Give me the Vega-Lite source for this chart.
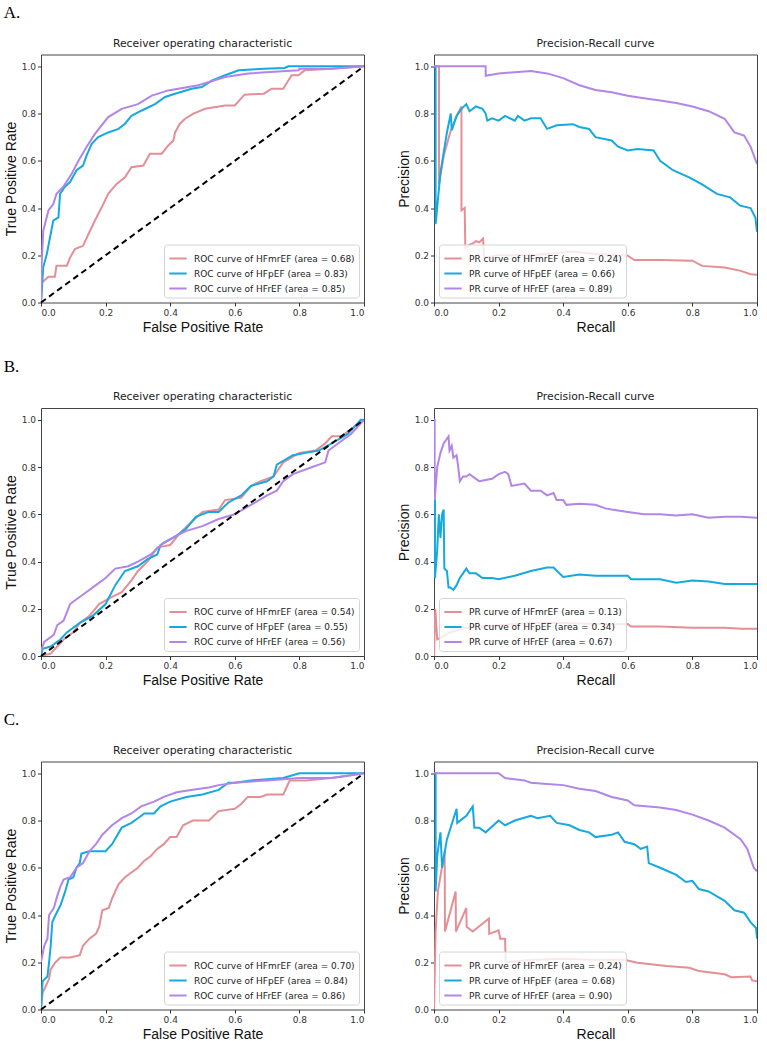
{
  "$schema": "https://vega.github.io/schema/vega-lite/v6.json",
  "padding": {"left": 3, "top": 3.5, "right": 5, "bottom": 2},
  "background": "white",
  "spacing": 22.5,
  "resolve": {"scale": {"color": "independent"}, "legend": {"color": "independent"}},
  "datasets": {
    "rocA": [
      {"curve": "HFmrEF", "fpr": 0, "tpr": 0}, {"curve": "HFmrEF", "fpr": 0.003, "tpr": 0.085}, {"curve": "HFmrEF", "fpr": 0.023, "tpr": 0.109}, {"curve": "HFmrEF", "fpr": 0.043, "tpr": 0.109}, {"curve": "HFmrEF", "fpr": 0.048, "tpr": 0.156}, {"curve": "HFmrEF", "fpr": 0.08, "tpr": 0.156}, {"curve": "HFmrEF", "fpr": 0.09, "tpr": 0.19}, {"curve": "HFmrEF", "fpr": 0.105, "tpr": 0.226}, {"curve": "HFmrEF", "fpr": 0.13, "tpr": 0.24}, {"curve": "HFmrEF", "fpr": 0.147, "tpr": 0.29}, {"curve": "HFmrEF", "fpr": 0.167, "tpr": 0.347}, {"curve": "HFmrEF", "fpr": 0.188, "tpr": 0.403}, {"curve": "HFmrEF", "fpr": 0.208, "tpr": 0.46}, {"curve": "HFmrEF", "fpr": 0.234, "tpr": 0.502}, {"curve": "HFmrEF", "fpr": 0.26, "tpr": 0.53}, {"curve": "HFmrEF", "fpr": 0.28, "tpr": 0.573}, {"curve": "HFmrEF", "fpr": 0.317, "tpr": 0.58}, {"curve": "HFmrEF", "fpr": 0.337, "tpr": 0.63}, {"curve": "HFmrEF", "fpr": 0.374, "tpr": 0.63}, {"curve": "HFmrEF", "fpr": 0.394, "tpr": 0.665}, {"curve": "HFmrEF", "fpr": 0.41, "tpr": 0.686}, {"curve": "HFmrEF", "fpr": 0.415, "tpr": 0.72}, {"curve": "HFmrEF", "fpr": 0.43, "tpr": 0.757}, {"curve": "HFmrEF", "fpr": 0.446, "tpr": 0.778}, {"curve": "HFmrEF", "fpr": 0.472, "tpr": 0.8}, {"curve": "HFmrEF", "fpr": 0.508, "tpr": 0.82}, {"curve": "HFmrEF", "fpr": 0.57, "tpr": 0.834}, {"curve": "HFmrEF", "fpr": 0.6, "tpr": 0.834}, {"curve": "HFmrEF", "fpr": 0.63, "tpr": 0.88}, {"curve": "HFmrEF", "fpr": 0.69, "tpr": 0.884}, {"curve": "HFmrEF", "fpr": 0.714, "tpr": 0.905}, {"curve": "HFmrEF", "fpr": 0.75, "tpr": 0.905}, {"curve": "HFmrEF", "fpr": 0.776, "tpr": 0.962}, {"curve": "HFmrEF", "fpr": 0.797, "tpr": 0.962}, {"curve": "HFmrEF", "fpr": 0.817, "tpr": 0.983}, {"curve": "HFmrEF", "fpr": 0.9, "tpr": 0.99}, {"curve": "HFmrEF", "fpr": 1, "tpr": 1},
      {"curve": "HFpEF", "fpr": 0, "tpr": 0}, {"curve": "HFpEF", "fpr": 0.007, "tpr": 0.15}, {"curve": "HFpEF", "fpr": 0.018, "tpr": 0.205}, {"curve": "HFpEF", "fpr": 0.028, "tpr": 0.276}, {"curve": "HFpEF", "fpr": 0.038, "tpr": 0.347}, {"curve": "HFpEF", "fpr": 0.054, "tpr": 0.36}, {"curve": "HFpEF", "fpr": 0.059, "tpr": 0.46}, {"curve": "HFpEF", "fpr": 0.074, "tpr": 0.49}, {"curve": "HFpEF", "fpr": 0.09, "tpr": 0.51}, {"curve": "HFpEF", "fpr": 0.11, "tpr": 0.56}, {"curve": "HFpEF", "fpr": 0.13, "tpr": 0.58}, {"curve": "HFpEF", "fpr": 0.141, "tpr": 0.622}, {"curve": "HFpEF", "fpr": 0.157, "tpr": 0.672}, {"curve": "HFpEF", "fpr": 0.177, "tpr": 0.7}, {"curve": "HFpEF", "fpr": 0.208, "tpr": 0.72}, {"curve": "HFpEF", "fpr": 0.24, "tpr": 0.735}, {"curve": "HFpEF", "fpr": 0.26, "tpr": 0.757}, {"curve": "HFpEF", "fpr": 0.28, "tpr": 0.79}, {"curve": "HFpEF", "fpr": 0.312, "tpr": 0.813}, {"curve": "HFpEF", "fpr": 0.353, "tpr": 0.84}, {"curve": "HFpEF", "fpr": 0.384, "tpr": 0.87}, {"curve": "HFpEF", "fpr": 0.415, "tpr": 0.884}, {"curve": "HFpEF", "fpr": 0.466, "tpr": 0.905}, {"curve": "HFpEF", "fpr": 0.498, "tpr": 0.912}, {"curve": "HFpEF", "fpr": 0.53, "tpr": 0.94}, {"curve": "HFpEF", "fpr": 0.57, "tpr": 0.962}, {"curve": "HFpEF", "fpr": 0.612, "tpr": 0.983}, {"curve": "HFpEF", "fpr": 0.69, "tpr": 0.99}, {"curve": "HFpEF", "fpr": 0.754, "tpr": 0.993}, {"curve": "HFpEF", "fpr": 0.766, "tpr": 1}, {"curve": "HFpEF", "fpr": 1, "tpr": 1},
      {"curve": "HFrEF", "fpr": 0, "tpr": 0}, {"curve": "HFrEF", "fpr": 0.002, "tpr": 0.163}, {"curve": "HFrEF", "fpr": 0.007, "tpr": 0.304}, {"curve": "HFrEF", "fpr": 0.023, "tpr": 0.39}, {"curve": "HFrEF", "fpr": 0.038, "tpr": 0.417}, {"curve": "HFrEF", "fpr": 0.048, "tpr": 0.46}, {"curve": "HFrEF", "fpr": 0.069, "tpr": 0.49}, {"curve": "HFrEF", "fpr": 0.095, "tpr": 0.545}, {"curve": "HFrEF", "fpr": 0.116, "tpr": 0.6}, {"curve": "HFrEF", "fpr": 0.141, "tpr": 0.658}, {"curve": "HFrEF", "fpr": 0.167, "tpr": 0.714}, {"curve": "HFrEF", "fpr": 0.208, "tpr": 0.785}, {"curve": "HFrEF", "fpr": 0.25, "tpr": 0.82}, {"curve": "HFrEF", "fpr": 0.3, "tpr": 0.84}, {"curve": "HFrEF", "fpr": 0.343, "tpr": 0.876}, {"curve": "HFrEF", "fpr": 0.394, "tpr": 0.898}, {"curve": "HFrEF", "fpr": 0.487, "tpr": 0.92}, {"curve": "HFrEF", "fpr": 0.57, "tpr": 0.955}, {"curve": "HFrEF", "fpr": 0.642, "tpr": 0.97}, {"curve": "HFrEF", "fpr": 0.797, "tpr": 0.983}, {"curve": "HFrEF", "fpr": 0.8, "tpr": 0.99}, {"curve": "HFrEF", "fpr": 0.9, "tpr": 0.99}, {"curve": "HFrEF", "fpr": 1, "tpr": 1}
    ],
    "prA": [
      {"curve": "HFmrEF", "recall": 0, "precision": 1}, {"curve": "HFmrEF", "recall": 0.0155, "precision": 1}, {"curve": "HFmrEF", "recall": 0.0155, "precision": 0.5}, {"curve": "HFmrEF", "recall": 0.03, "precision": 0.62}, {"curve": "HFmrEF", "recall": 0.05, "precision": 0.72}, {"curve": "HFmrEF", "recall": 0.07, "precision": 0.79}, {"curve": "HFmrEF", "recall": 0.085, "precision": 0.83}, {"curve": "HFmrEF", "recall": 0.085, "precision": 0.39}, {"curve": "HFmrEF", "recall": 0.095, "precision": 0.4}, {"curve": "HFmrEF", "recall": 0.097, "precision": 0.23}, {"curve": "HFmrEF", "recall": 0.11, "precision": 0.245}, {"curve": "HFmrEF", "recall": 0.12, "precision": 0.25}, {"curve": "HFmrEF", "recall": 0.13, "precision": 0.26}, {"curve": "HFmrEF", "recall": 0.14, "precision": 0.255}, {"curve": "HFmrEF", "recall": 0.152, "precision": 0.27}, {"curve": "HFmrEF", "recall": 0.155, "precision": 0.19}, {"curve": "HFmrEF", "recall": 0.2, "precision": 0.2}, {"curve": "HFmrEF", "recall": 0.3, "precision": 0.2}, {"curve": "HFmrEF", "recall": 0.43, "precision": 0.216}, {"curve": "HFmrEF", "recall": 0.5, "precision": 0.205}, {"curve": "HFmrEF", "recall": 0.6, "precision": 0.198}, {"curve": "HFmrEF", "recall": 0.62, "precision": 0.18}, {"curve": "HFmrEF", "recall": 0.7, "precision": 0.18}, {"curve": "HFmrEF", "recall": 0.8, "precision": 0.177}, {"curve": "HFmrEF", "recall": 0.83, "precision": 0.155}, {"curve": "HFmrEF", "recall": 0.9, "precision": 0.148}, {"curve": "HFmrEF", "recall": 0.95, "precision": 0.134}, {"curve": "HFmrEF", "recall": 0.98, "precision": 0.12}, {"curve": "HFmrEF", "recall": 1, "precision": 0.117},
      {"curve": "HFpEF", "recall": 0, "precision": 1}, {"curve": "HFpEF", "recall": 0.005, "precision": 1}, {"curve": "HFpEF", "recall": 0.005, "precision": 0.332}, {"curve": "HFpEF", "recall": 0.02, "precision": 0.55}, {"curve": "HFpEF", "recall": 0.04, "precision": 0.72}, {"curve": "HFpEF", "recall": 0.052, "precision": 0.8}, {"curve": "HFpEF", "recall": 0.055, "precision": 0.73}, {"curve": "HFpEF", "recall": 0.07, "precision": 0.79}, {"curve": "HFpEF", "recall": 0.085, "precision": 0.82}, {"curve": "HFpEF", "recall": 0.1, "precision": 0.84}, {"curve": "HFpEF", "recall": 0.11, "precision": 0.81}, {"curve": "HFpEF", "recall": 0.13, "precision": 0.83}, {"curve": "HFpEF", "recall": 0.15, "precision": 0.82}, {"curve": "HFpEF", "recall": 0.16, "precision": 0.8}, {"curve": "HFpEF", "recall": 0.165, "precision": 0.77}, {"curve": "HFpEF", "recall": 0.18, "precision": 0.78}, {"curve": "HFpEF", "recall": 0.2, "precision": 0.77}, {"curve": "HFpEF", "recall": 0.22, "precision": 0.79}, {"curve": "HFpEF", "recall": 0.25, "precision": 0.77}, {"curve": "HFpEF", "recall": 0.26, "precision": 0.79}, {"curve": "HFpEF", "recall": 0.28, "precision": 0.77}, {"curve": "HFpEF", "recall": 0.3, "precision": 0.78}, {"curve": "HFpEF", "recall": 0.33, "precision": 0.78}, {"curve": "HFpEF", "recall": 0.35, "precision": 0.735}, {"curve": "HFpEF", "recall": 0.38, "precision": 0.75}, {"curve": "HFpEF", "recall": 0.43, "precision": 0.755}, {"curve": "HFpEF", "recall": 0.45, "precision": 0.743}, {"curve": "HFpEF", "recall": 0.48, "precision": 0.735}, {"curve": "HFpEF", "recall": 0.5, "precision": 0.7}, {"curve": "HFpEF", "recall": 0.55, "precision": 0.686}, {"curve": "HFpEF", "recall": 0.57, "precision": 0.66}, {"curve": "HFpEF", "recall": 0.6, "precision": 0.644}, {"curve": "HFpEF", "recall": 0.63, "precision": 0.65}, {"curve": "HFpEF", "recall": 0.68, "precision": 0.644}, {"curve": "HFpEF", "recall": 0.7, "precision": 0.6}, {"curve": "HFpEF", "recall": 0.74, "precision": 0.56}, {"curve": "HFpEF", "recall": 0.79, "precision": 0.53}, {"curve": "HFpEF", "recall": 0.83, "precision": 0.5}, {"curve": "HFpEF", "recall": 0.876, "precision": 0.46}, {"curve": "HFpEF", "recall": 0.917, "precision": 0.445}, {"curve": "HFpEF", "recall": 0.948, "precision": 0.41}, {"curve": "HFpEF", "recall": 0.98, "precision": 0.4}, {"curve": "HFpEF", "recall": 0.995, "precision": 0.36}, {"curve": "HFpEF", "recall": 1, "precision": 0.3},
      {"curve": "HFrEF", "recall": 0, "precision": 1}, {"curve": "HFrEF", "recall": 0.16, "precision": 1}, {"curve": "HFrEF", "recall": 0.16, "precision": 0.96}, {"curve": "HFrEF", "recall": 0.2, "precision": 0.97}, {"curve": "HFrEF", "recall": 0.3, "precision": 0.98}, {"curve": "HFrEF", "recall": 0.35, "precision": 0.97}, {"curve": "HFrEF", "recall": 0.4, "precision": 0.95}, {"curve": "HFrEF", "recall": 0.45, "precision": 0.92}, {"curve": "HFrEF", "recall": 0.5, "precision": 0.9}, {"curve": "HFrEF", "recall": 0.55, "precision": 0.89}, {"curve": "HFrEF", "recall": 0.6, "precision": 0.875}, {"curve": "HFrEF", "recall": 0.65, "precision": 0.865}, {"curve": "HFrEF", "recall": 0.7, "precision": 0.855}, {"curve": "HFrEF", "recall": 0.75, "precision": 0.845}, {"curve": "HFrEF", "recall": 0.8, "precision": 0.83}, {"curve": "HFrEF", "recall": 0.85, "precision": 0.81}, {"curve": "HFrEF", "recall": 0.9, "precision": 0.778}, {"curve": "HFrEF", "recall": 0.93, "precision": 0.72}, {"curve": "HFrEF", "recall": 0.96, "precision": 0.707}, {"curve": "HFrEF", "recall": 0.98, "precision": 0.66}, {"curve": "HFrEF", "recall": 1, "precision": 0.587}
    ],
    "rocB": [
      {"curve": "HFmrEF", "fpr": 0, "tpr": 0}, {"curve": "HFmrEF", "fpr": 0.03, "tpr": 0.01}, {"curve": "HFmrEF", "fpr": 0.07, "tpr": 0.07}, {"curve": "HFmrEF", "fpr": 0.1, "tpr": 0.1}, {"curve": "HFmrEF", "fpr": 0.12, "tpr": 0.14}, {"curve": "HFmrEF", "fpr": 0.15, "tpr": 0.17}, {"curve": "HFmrEF", "fpr": 0.18, "tpr": 0.22}, {"curve": "HFmrEF", "fpr": 0.22, "tpr": 0.25}, {"curve": "HFmrEF", "fpr": 0.25, "tpr": 0.27}, {"curve": "HFmrEF", "fpr": 0.28, "tpr": 0.32}, {"curve": "HFmrEF", "fpr": 0.3, "tpr": 0.36}, {"curve": "HFmrEF", "fpr": 0.33, "tpr": 0.4}, {"curve": "HFmrEF", "fpr": 0.36, "tpr": 0.46}, {"curve": "HFmrEF", "fpr": 0.4, "tpr": 0.47}, {"curve": "HFmrEF", "fpr": 0.43, "tpr": 0.52}, {"curve": "HFmrEF", "fpr": 0.46, "tpr": 0.56}, {"curve": "HFmrEF", "fpr": 0.5, "tpr": 0.61}, {"curve": "HFmrEF", "fpr": 0.55, "tpr": 0.62}, {"curve": "HFmrEF", "fpr": 0.57, "tpr": 0.66}, {"curve": "HFmrEF", "fpr": 0.62, "tpr": 0.67}, {"curve": "HFmrEF", "fpr": 0.65, "tpr": 0.72}, {"curve": "HFmrEF", "fpr": 0.68, "tpr": 0.74}, {"curve": "HFmrEF", "fpr": 0.72, "tpr": 0.76}, {"curve": "HFmrEF", "fpr": 0.75, "tpr": 0.82}, {"curve": "HFmrEF", "fpr": 0.8, "tpr": 0.86}, {"curve": "HFmrEF", "fpr": 0.85, "tpr": 0.87}, {"curve": "HFmrEF", "fpr": 0.88, "tpr": 0.9}, {"curve": "HFmrEF", "fpr": 0.9, "tpr": 0.93}, {"curve": "HFmrEF", "fpr": 0.93, "tpr": 0.93}, {"curve": "HFmrEF", "fpr": 0.95, "tpr": 0.95}, {"curve": "HFmrEF", "fpr": 1, "tpr": 1},
      {"curve": "HFpEF", "fpr": 0, "tpr": 0}, {"curve": "HFpEF", "fpr": 0.005, "tpr": 0.03}, {"curve": "HFpEF", "fpr": 0.03, "tpr": 0.04}, {"curve": "HFpEF", "fpr": 0.06, "tpr": 0.07}, {"curve": "HFpEF", "fpr": 0.08, "tpr": 0.1}, {"curve": "HFpEF", "fpr": 0.12, "tpr": 0.14}, {"curve": "HFpEF", "fpr": 0.16, "tpr": 0.17}, {"curve": "HFpEF", "fpr": 0.2, "tpr": 0.22}, {"curve": "HFpEF", "fpr": 0.23, "tpr": 0.3}, {"curve": "HFpEF", "fpr": 0.26, "tpr": 0.36}, {"curve": "HFpEF", "fpr": 0.3, "tpr": 0.38}, {"curve": "HFpEF", "fpr": 0.33, "tpr": 0.41}, {"curve": "HFpEF", "fpr": 0.36, "tpr": 0.43}, {"curve": "HFpEF", "fpr": 0.37, "tpr": 0.47}, {"curve": "HFpEF", "fpr": 0.42, "tpr": 0.51}, {"curve": "HFpEF", "fpr": 0.45, "tpr": 0.54}, {"curve": "HFpEF", "fpr": 0.48, "tpr": 0.59}, {"curve": "HFpEF", "fpr": 0.52, "tpr": 0.61}, {"curve": "HFpEF", "fpr": 0.55, "tpr": 0.61}, {"curve": "HFpEF", "fpr": 0.58, "tpr": 0.65}, {"curve": "HFpEF", "fpr": 0.62, "tpr": 0.68}, {"curve": "HFpEF", "fpr": 0.65, "tpr": 0.72}, {"curve": "HFpEF", "fpr": 0.7, "tpr": 0.74}, {"curve": "HFpEF", "fpr": 0.72, "tpr": 0.76}, {"curve": "HFpEF", "fpr": 0.73, "tpr": 0.81}, {"curve": "HFpEF", "fpr": 0.78, "tpr": 0.85}, {"curve": "HFpEF", "fpr": 0.82, "tpr": 0.86}, {"curve": "HFpEF", "fpr": 0.86, "tpr": 0.87}, {"curve": "HFpEF", "fpr": 0.9, "tpr": 0.9}, {"curve": "HFpEF", "fpr": 0.95, "tpr": 0.94}, {"curve": "HFpEF", "fpr": 0.99, "tpr": 1}, {"curve": "HFpEF", "fpr": 1, "tpr": 1},
      {"curve": "HFrEF", "fpr": 0, "tpr": 0.02}, {"curve": "HFrEF", "fpr": 0.01, "tpr": 0.06}, {"curve": "HFrEF", "fpr": 0.04, "tpr": 0.09}, {"curve": "HFrEF", "fpr": 0.05, "tpr": 0.13}, {"curve": "HFrEF", "fpr": 0.07, "tpr": 0.15}, {"curve": "HFrEF", "fpr": 0.09, "tpr": 0.22}, {"curve": "HFrEF", "fpr": 0.11, "tpr": 0.24}, {"curve": "HFrEF", "fpr": 0.14, "tpr": 0.27}, {"curve": "HFrEF", "fpr": 0.17, "tpr": 0.3}, {"curve": "HFrEF", "fpr": 0.2, "tpr": 0.33}, {"curve": "HFrEF", "fpr": 0.23, "tpr": 0.37}, {"curve": "HFrEF", "fpr": 0.27, "tpr": 0.38}, {"curve": "HFrEF", "fpr": 0.3, "tpr": 0.4}, {"curve": "HFrEF", "fpr": 0.34, "tpr": 0.43}, {"curve": "HFrEF", "fpr": 0.38, "tpr": 0.48}, {"curve": "HFrEF", "fpr": 0.42, "tpr": 0.51}, {"curve": "HFrEF", "fpr": 0.45, "tpr": 0.53}, {"curve": "HFrEF", "fpr": 0.5, "tpr": 0.55}, {"curve": "HFrEF", "fpr": 0.55, "tpr": 0.58}, {"curve": "HFrEF", "fpr": 0.6, "tpr": 0.6}, {"curve": "HFrEF", "fpr": 0.65, "tpr": 0.64}, {"curve": "HFrEF", "fpr": 0.7, "tpr": 0.68}, {"curve": "HFrEF", "fpr": 0.73, "tpr": 0.7}, {"curve": "HFrEF", "fpr": 0.75, "tpr": 0.74}, {"curve": "HFrEF", "fpr": 0.78, "tpr": 0.77}, {"curve": "HFrEF", "fpr": 0.84, "tpr": 0.8}, {"curve": "HFrEF", "fpr": 0.88, "tpr": 0.82}, {"curve": "HFrEF", "fpr": 0.89, "tpr": 0.87}, {"curve": "HFrEF", "fpr": 0.93, "tpr": 0.91}, {"curve": "HFrEF", "fpr": 0.96, "tpr": 0.94}, {"curve": "HFrEF", "fpr": 1, "tpr": 1}
    ],
    "prB": [
      {"curve": "HFmrEF", "recall": 0, "precision": 0}, {"curve": "HFmrEF", "recall": 0.004, "precision": 0.2}, {"curve": "HFmrEF", "recall": 0.01, "precision": 0.07}, {"curve": "HFmrEF", "recall": 0.05, "precision": 0.1}, {"curve": "HFmrEF", "recall": 0.1, "precision": 0.12}, {"curve": "HFmrEF", "recall": 0.2, "precision": 0.13}, {"curve": "HFmrEF", "recall": 0.3, "precision": 0.14}, {"curve": "HFmrEF", "recall": 0.4, "precision": 0.14}, {"curve": "HFmrEF", "recall": 0.5, "precision": 0.135}, {"curve": "HFmrEF", "recall": 0.6, "precision": 0.135}, {"curve": "HFmrEF", "recall": 0.61, "precision": 0.125}, {"curve": "HFmrEF", "recall": 0.7, "precision": 0.125}, {"curve": "HFmrEF", "recall": 0.8, "precision": 0.12}, {"curve": "HFmrEF", "recall": 0.9, "precision": 0.12}, {"curve": "HFmrEF", "recall": 0.95, "precision": 0.115}, {"curve": "HFmrEF", "recall": 1, "precision": 0.115},
      {"curve": "HFpEF", "recall": 0, "precision": 0.66}, {"curve": "HFpEF", "recall": 0.003, "precision": 0.66}, {"curve": "HFpEF", "recall": 0.003, "precision": 0.33}, {"curve": "HFpEF", "recall": 0.01, "precision": 0.45}, {"curve": "HFpEF", "recall": 0.015, "precision": 0.6}, {"curve": "HFpEF", "recall": 0.02, "precision": 0.5}, {"curve": "HFpEF", "recall": 0.025, "precision": 0.6}, {"curve": "HFpEF", "recall": 0.03, "precision": 0.62}, {"curve": "HFpEF", "recall": 0.032, "precision": 0.37}, {"curve": "HFpEF", "recall": 0.04, "precision": 0.36}, {"curve": "HFpEF", "recall": 0.045, "precision": 0.29}, {"curve": "HFpEF", "recall": 0.05, "precision": 0.29}, {"curve": "HFpEF", "recall": 0.06, "precision": 0.28}, {"curve": "HFpEF", "recall": 0.07, "precision": 0.3}, {"curve": "HFpEF", "recall": 0.08, "precision": 0.33}, {"curve": "HFpEF", "recall": 0.1, "precision": 0.37}, {"curve": "HFpEF", "recall": 0.11, "precision": 0.35}, {"curve": "HFpEF", "recall": 0.13, "precision": 0.35}, {"curve": "HFpEF", "recall": 0.15, "precision": 0.33}, {"curve": "HFpEF", "recall": 0.18, "precision": 0.33}, {"curve": "HFpEF", "recall": 0.2, "precision": 0.325}, {"curve": "HFpEF", "recall": 0.25, "precision": 0.34}, {"curve": "HFpEF", "recall": 0.3, "precision": 0.36}, {"curve": "HFpEF", "recall": 0.35, "precision": 0.375}, {"curve": "HFpEF", "recall": 0.37, "precision": 0.375}, {"curve": "HFpEF", "recall": 0.4, "precision": 0.335}, {"curve": "HFpEF", "recall": 0.45, "precision": 0.345}, {"curve": "HFpEF", "recall": 0.5, "precision": 0.34}, {"curve": "HFpEF", "recall": 0.55, "precision": 0.34}, {"curve": "HFpEF", "recall": 0.6, "precision": 0.34}, {"curve": "HFpEF", "recall": 0.61, "precision": 0.325}, {"curve": "HFpEF", "recall": 0.7, "precision": 0.325}, {"curve": "HFpEF", "recall": 0.75, "precision": 0.31}, {"curve": "HFpEF", "recall": 0.8, "precision": 0.32}, {"curve": "HFpEF", "recall": 0.85, "precision": 0.315}, {"curve": "HFpEF", "recall": 0.9, "precision": 0.305}, {"curve": "HFpEF", "recall": 0.95, "precision": 0.305}, {"curve": "HFpEF", "recall": 1, "precision": 0.305},
      {"curve": "HFrEF", "recall": 0, "precision": 1}, {"curve": "HFrEF", "recall": 0.002, "precision": 1}, {"curve": "HFrEF", "recall": 0.002, "precision": 0.66}, {"curve": "HFrEF", "recall": 0.01, "precision": 0.8}, {"curve": "HFrEF", "recall": 0.02, "precision": 0.86}, {"curve": "HFrEF", "recall": 0.03, "precision": 0.9}, {"curve": "HFrEF", "recall": 0.045, "precision": 0.93}, {"curve": "HFrEF", "recall": 0.048, "precision": 0.87}, {"curve": "HFrEF", "recall": 0.055, "precision": 0.89}, {"curve": "HFrEF", "recall": 0.06, "precision": 0.84}, {"curve": "HFrEF", "recall": 0.07, "precision": 0.85}, {"curve": "HFrEF", "recall": 0.075, "precision": 0.8}, {"curve": "HFrEF", "recall": 0.08, "precision": 0.74}, {"curve": "HFrEF", "recall": 0.09, "precision": 0.76}, {"curve": "HFrEF", "recall": 0.1, "precision": 0.76}, {"curve": "HFrEF", "recall": 0.11, "precision": 0.77}, {"curve": "HFrEF", "recall": 0.13, "precision": 0.75}, {"curve": "HFrEF", "recall": 0.14, "precision": 0.74}, {"curve": "HFrEF", "recall": 0.16, "precision": 0.745}, {"curve": "HFrEF", "recall": 0.18, "precision": 0.75}, {"curve": "HFrEF", "recall": 0.2, "precision": 0.77}, {"curve": "HFrEF", "recall": 0.22, "precision": 0.78}, {"curve": "HFrEF", "recall": 0.23, "precision": 0.77}, {"curve": "HFrEF", "recall": 0.24, "precision": 0.72}, {"curve": "HFrEF", "recall": 0.28, "precision": 0.73}, {"curve": "HFrEF", "recall": 0.3, "precision": 0.7}, {"curve": "HFrEF", "recall": 0.33, "precision": 0.7}, {"curve": "HFrEF", "recall": 0.35, "precision": 0.68}, {"curve": "HFrEF", "recall": 0.37, "precision": 0.69}, {"curve": "HFrEF", "recall": 0.38, "precision": 0.66}, {"curve": "HFrEF", "recall": 0.4, "precision": 0.66}, {"curve": "HFrEF", "recall": 0.41, "precision": 0.64}, {"curve": "HFrEF", "recall": 0.45, "precision": 0.645}, {"curve": "HFrEF", "recall": 0.5, "precision": 0.64}, {"curve": "HFrEF", "recall": 0.53, "precision": 0.625}, {"curve": "HFrEF", "recall": 0.55, "precision": 0.62}, {"curve": "HFrEF", "recall": 0.6, "precision": 0.61}, {"curve": "HFrEF", "recall": 0.65, "precision": 0.6}, {"curve": "HFrEF", "recall": 0.7, "precision": 0.6}, {"curve": "HFrEF", "recall": 0.75, "precision": 0.595}, {"curve": "HFrEF", "recall": 0.8, "precision": 0.6}, {"curve": "HFrEF", "recall": 0.85, "precision": 0.585}, {"curve": "HFrEF", "recall": 0.9, "precision": 0.59}, {"curve": "HFrEF", "recall": 0.95, "precision": 0.59}, {"curve": "HFrEF", "recall": 1, "precision": 0.585}
    ],
    "rocC": [
      {"curve": "HFmrEF", "fpr": 0, "tpr": 0}, {"curve": "HFmrEF", "fpr": 0.005, "tpr": 0.07}, {"curve": "HFmrEF", "fpr": 0.015, "tpr": 0.1}, {"curve": "HFmrEF", "fpr": 0.025, "tpr": 0.13}, {"curve": "HFmrEF", "fpr": 0.03, "tpr": 0.17}, {"curve": "HFmrEF", "fpr": 0.045, "tpr": 0.2}, {"curve": "HFmrEF", "fpr": 0.06, "tpr": 0.22}, {"curve": "HFmrEF", "fpr": 0.09, "tpr": 0.22}, {"curve": "HFmrEF", "fpr": 0.12, "tpr": 0.23}, {"curve": "HFmrEF", "fpr": 0.13, "tpr": 0.27}, {"curve": "HFmrEF", "fpr": 0.15, "tpr": 0.3}, {"curve": "HFmrEF", "fpr": 0.17, "tpr": 0.32}, {"curve": "HFmrEF", "fpr": 0.18, "tpr": 0.35}, {"curve": "HFmrEF", "fpr": 0.19, "tpr": 0.42}, {"curve": "HFmrEF", "fpr": 0.21, "tpr": 0.43}, {"curve": "HFmrEF", "fpr": 0.22, "tpr": 0.47}, {"curve": "HFmrEF", "fpr": 0.24, "tpr": 0.53}, {"curve": "HFmrEF", "fpr": 0.26, "tpr": 0.56}, {"curve": "HFmrEF", "fpr": 0.28, "tpr": 0.58}, {"curve": "HFmrEF", "fpr": 0.3, "tpr": 0.6}, {"curve": "HFmrEF", "fpr": 0.32, "tpr": 0.63}, {"curve": "HFmrEF", "fpr": 0.34, "tpr": 0.65}, {"curve": "HFmrEF", "fpr": 0.36, "tpr": 0.68}, {"curve": "HFmrEF", "fpr": 0.38, "tpr": 0.7}, {"curve": "HFmrEF", "fpr": 0.4, "tpr": 0.73}, {"curve": "HFmrEF", "fpr": 0.42, "tpr": 0.73}, {"curve": "HFmrEF", "fpr": 0.44, "tpr": 0.78}, {"curve": "HFmrEF", "fpr": 0.47, "tpr": 0.8}, {"curve": "HFmrEF", "fpr": 0.52, "tpr": 0.8}, {"curve": "HFmrEF", "fpr": 0.55, "tpr": 0.84}, {"curve": "HFmrEF", "fpr": 0.6, "tpr": 0.85}, {"curve": "HFmrEF", "fpr": 0.62, "tpr": 0.87}, {"curve": "HFmrEF", "fpr": 0.64, "tpr": 0.9}, {"curve": "HFmrEF", "fpr": 0.68, "tpr": 0.9}, {"curve": "HFmrEF", "fpr": 0.7, "tpr": 0.91}, {"curve": "HFmrEF", "fpr": 0.75, "tpr": 0.91}, {"curve": "HFmrEF", "fpr": 0.76, "tpr": 0.94}, {"curve": "HFmrEF", "fpr": 0.77, "tpr": 0.97}, {"curve": "HFmrEF", "fpr": 0.82, "tpr": 0.97}, {"curve": "HFmrEF", "fpr": 0.9, "tpr": 0.98}, {"curve": "HFmrEF", "fpr": 1, "tpr": 1},
      {"curve": "HFpEF", "fpr": 0, "tpr": 0}, {"curve": "HFpEF", "fpr": 0.005, "tpr": 0.12}, {"curve": "HFpEF", "fpr": 0.02, "tpr": 0.14}, {"curve": "HFpEF", "fpr": 0.025, "tpr": 0.2}, {"curve": "HFpEF", "fpr": 0.03, "tpr": 0.27}, {"curve": "HFpEF", "fpr": 0.035, "tpr": 0.37}, {"curve": "HFpEF", "fpr": 0.045, "tpr": 0.4}, {"curve": "HFpEF", "fpr": 0.06, "tpr": 0.44}, {"curve": "HFpEF", "fpr": 0.075, "tpr": 0.5}, {"curve": "HFpEF", "fpr": 0.085, "tpr": 0.55}, {"curve": "HFpEF", "fpr": 0.1, "tpr": 0.56}, {"curve": "HFpEF", "fpr": 0.11, "tpr": 0.6}, {"curve": "HFpEF", "fpr": 0.12, "tpr": 0.62}, {"curve": "HFpEF", "fpr": 0.125, "tpr": 0.66}, {"curve": "HFpEF", "fpr": 0.15, "tpr": 0.67}, {"curve": "HFpEF", "fpr": 0.2, "tpr": 0.67}, {"curve": "HFpEF", "fpr": 0.22, "tpr": 0.7}, {"curve": "HFpEF", "fpr": 0.25, "tpr": 0.77}, {"curve": "HFpEF", "fpr": 0.28, "tpr": 0.79}, {"curve": "HFpEF", "fpr": 0.3, "tpr": 0.81}, {"curve": "HFpEF", "fpr": 0.32, "tpr": 0.83}, {"curve": "HFpEF", "fpr": 0.35, "tpr": 0.83}, {"curve": "HFpEF", "fpr": 0.37, "tpr": 0.86}, {"curve": "HFpEF", "fpr": 0.4, "tpr": 0.88}, {"curve": "HFpEF", "fpr": 0.45, "tpr": 0.9}, {"curve": "HFpEF", "fpr": 0.5, "tpr": 0.91}, {"curve": "HFpEF", "fpr": 0.55, "tpr": 0.93}, {"curve": "HFpEF", "fpr": 0.58, "tpr": 0.96}, {"curve": "HFpEF", "fpr": 0.6, "tpr": 0.96}, {"curve": "HFpEF", "fpr": 0.65, "tpr": 0.97}, {"curve": "HFpEF", "fpr": 0.75, "tpr": 0.98}, {"curve": "HFpEF", "fpr": 0.8, "tpr": 1}, {"curve": "HFpEF", "fpr": 1, "tpr": 1},
      {"curve": "HFrEF", "fpr": 0, "tpr": 0.2}, {"curve": "HFrEF", "fpr": 0.01, "tpr": 0.27}, {"curve": "HFrEF", "fpr": 0.02, "tpr": 0.3}, {"curve": "HFrEF", "fpr": 0.025, "tpr": 0.4}, {"curve": "HFrEF", "fpr": 0.04, "tpr": 0.43}, {"curve": "HFrEF", "fpr": 0.05, "tpr": 0.48}, {"curve": "HFrEF", "fpr": 0.06, "tpr": 0.52}, {"curve": "HFrEF", "fpr": 0.07, "tpr": 0.55}, {"curve": "HFrEF", "fpr": 0.09, "tpr": 0.56}, {"curve": "HFrEF", "fpr": 0.11, "tpr": 0.6}, {"curve": "HFrEF", "fpr": 0.13, "tpr": 0.62}, {"curve": "HFrEF", "fpr": 0.15, "tpr": 0.67}, {"curve": "HFrEF", "fpr": 0.17, "tpr": 0.7}, {"curve": "HFrEF", "fpr": 0.19, "tpr": 0.74}, {"curve": "HFrEF", "fpr": 0.22, "tpr": 0.78}, {"curve": "HFrEF", "fpr": 0.25, "tpr": 0.81}, {"curve": "HFrEF", "fpr": 0.28, "tpr": 0.83}, {"curve": "HFrEF", "fpr": 0.31, "tpr": 0.86}, {"curve": "HFrEF", "fpr": 0.35, "tpr": 0.88}, {"curve": "HFrEF", "fpr": 0.38, "tpr": 0.9}, {"curve": "HFrEF", "fpr": 0.42, "tpr": 0.92}, {"curve": "HFrEF", "fpr": 0.47, "tpr": 0.93}, {"curve": "HFrEF", "fpr": 0.52, "tpr": 0.94}, {"curve": "HFrEF", "fpr": 0.55, "tpr": 0.95}, {"curve": "HFrEF", "fpr": 0.6, "tpr": 0.96}, {"curve": "HFrEF", "fpr": 0.7, "tpr": 0.97}, {"curve": "HFrEF", "fpr": 0.8, "tpr": 0.98}, {"curve": "HFrEF", "fpr": 0.9, "tpr": 0.98}, {"curve": "HFrEF", "fpr": 0.95, "tpr": 0.99}, {"curve": "HFrEF", "fpr": 1, "tpr": 1}
    ],
    "prC": [
      {"curve": "HFmrEF", "recall": 0, "precision": 0}, {"curve": "HFmrEF", "recall": 0.005, "precision": 0.33}, {"curve": "HFmrEF", "recall": 0.012, "precision": 0.5}, {"curve": "HFmrEF", "recall": 0.033, "precision": 0.67}, {"curve": "HFmrEF", "recall": 0.034, "precision": 0.33}, {"curve": "HFmrEF", "recall": 0.067, "precision": 0.5}, {"curve": "HFmrEF", "recall": 0.068, "precision": 0.33}, {"curve": "HFmrEF", "recall": 0.1, "precision": 0.43}, {"curve": "HFmrEF", "recall": 0.101, "precision": 0.35}, {"curve": "HFmrEF", "recall": 0.12, "precision": 0.33}, {"curve": "HFmrEF", "recall": 0.17, "precision": 0.385}, {"curve": "HFmrEF", "recall": 0.171, "precision": 0.32}, {"curve": "HFmrEF", "recall": 0.2, "precision": 0.335}, {"curve": "HFmrEF", "recall": 0.205, "precision": 0.3}, {"curve": "HFmrEF", "recall": 0.22, "precision": 0.3}, {"curve": "HFmrEF", "recall": 0.222, "precision": 0.2}, {"curve": "HFmrEF", "recall": 0.3, "precision": 0.21}, {"curve": "HFmrEF", "recall": 0.4, "precision": 0.215}, {"curve": "HFmrEF", "recall": 0.5, "precision": 0.21}, {"curve": "HFmrEF", "recall": 0.586, "precision": 0.212}, {"curve": "HFmrEF", "recall": 0.63, "precision": 0.198}, {"curve": "HFmrEF", "recall": 0.72, "precision": 0.184}, {"curve": "HFmrEF", "recall": 0.79, "precision": 0.177}, {"curve": "HFmrEF", "recall": 0.82, "precision": 0.163}, {"curve": "HFmrEF", "recall": 0.9, "precision": 0.149}, {"curve": "HFmrEF", "recall": 0.92, "precision": 0.137}, {"curve": "HFmrEF", "recall": 0.98, "precision": 0.14}, {"curve": "HFmrEF", "recall": 0.985, "precision": 0.123}, {"curve": "HFmrEF", "recall": 1, "precision": 0.12},
      {"curve": "HFpEF", "recall": 0, "precision": 1}, {"curve": "HFpEF", "recall": 0.005, "precision": 1}, {"curve": "HFpEF", "recall": 0.005, "precision": 0.5}, {"curve": "HFpEF", "recall": 0.01, "precision": 0.65}, {"curve": "HFpEF", "recall": 0.02, "precision": 0.75}, {"curve": "HFpEF", "recall": 0.025, "precision": 0.6}, {"curve": "HFpEF", "recall": 0.04, "precision": 0.72}, {"curve": "HFpEF", "recall": 0.07, "precision": 0.85}, {"curve": "HFpEF", "recall": 0.072, "precision": 0.79}, {"curve": "HFpEF", "recall": 0.1, "precision": 0.82}, {"curve": "HFpEF", "recall": 0.12, "precision": 0.86}, {"curve": "HFpEF", "recall": 0.125, "precision": 0.77}, {"curve": "HFpEF", "recall": 0.14, "precision": 0.77}, {"curve": "HFpEF", "recall": 0.16, "precision": 0.75}, {"curve": "HFpEF", "recall": 0.2, "precision": 0.8}, {"curve": "HFpEF", "recall": 0.22, "precision": 0.78}, {"curve": "HFpEF", "recall": 0.25, "precision": 0.8}, {"curve": "HFpEF", "recall": 0.3, "precision": 0.82}, {"curve": "HFpEF", "recall": 0.32, "precision": 0.81}, {"curve": "HFpEF", "recall": 0.36, "precision": 0.82}, {"curve": "HFpEF", "recall": 0.38, "precision": 0.79}, {"curve": "HFpEF", "recall": 0.42, "precision": 0.78}, {"curve": "HFpEF", "recall": 0.45, "precision": 0.76}, {"curve": "HFpEF", "recall": 0.48, "precision": 0.75}, {"curve": "HFpEF", "recall": 0.5, "precision": 0.73}, {"curve": "HFpEF", "recall": 0.55, "precision": 0.74}, {"curve": "HFpEF", "recall": 0.57, "precision": 0.75}, {"curve": "HFpEF", "recall": 0.59, "precision": 0.71}, {"curve": "HFpEF", "recall": 0.62, "precision": 0.7}, {"curve": "HFpEF", "recall": 0.64, "precision": 0.68}, {"curve": "HFpEF", "recall": 0.66, "precision": 0.69}, {"curve": "HFpEF", "recall": 0.665, "precision": 0.62}, {"curve": "HFpEF", "recall": 0.7, "precision": 0.6}, {"curve": "HFpEF", "recall": 0.75, "precision": 0.57}, {"curve": "HFpEF", "recall": 0.78, "precision": 0.54}, {"curve": "HFpEF", "recall": 0.8, "precision": 0.545}, {"curve": "HFpEF", "recall": 0.82, "precision": 0.51}, {"curve": "HFpEF", "recall": 0.85, "precision": 0.5}, {"curve": "HFpEF", "recall": 0.9, "precision": 0.46}, {"curve": "HFpEF", "recall": 0.93, "precision": 0.42}, {"curve": "HFpEF", "recall": 0.96, "precision": 0.41}, {"curve": "HFpEF", "recall": 0.98, "precision": 0.37}, {"curve": "HFpEF", "recall": 0.997, "precision": 0.345}, {"curve": "HFpEF", "recall": 1, "precision": 0.3},
      {"curve": "HFrEF", "recall": 0, "precision": 1}, {"curve": "HFrEF", "recall": 0.2, "precision": 1}, {"curve": "HFrEF", "recall": 0.22, "precision": 0.98}, {"curve": "HFrEF", "recall": 0.25, "precision": 0.975}, {"curve": "HFrEF", "recall": 0.28, "precision": 0.97}, {"curve": "HFrEF", "recall": 0.3, "precision": 0.96}, {"curve": "HFrEF", "recall": 0.35, "precision": 0.955}, {"curve": "HFrEF", "recall": 0.4, "precision": 0.95}, {"curve": "HFrEF", "recall": 0.45, "precision": 0.935}, {"curve": "HFrEF", "recall": 0.5, "precision": 0.925}, {"curve": "HFrEF", "recall": 0.55, "precision": 0.9}, {"curve": "HFrEF", "recall": 0.6, "precision": 0.885}, {"curve": "HFrEF", "recall": 0.62, "precision": 0.865}, {"curve": "HFrEF", "recall": 0.7, "precision": 0.855}, {"curve": "HFrEF", "recall": 0.75, "precision": 0.845}, {"curve": "HFrEF", "recall": 0.8, "precision": 0.825}, {"curve": "HFrEF", "recall": 0.85, "precision": 0.8}, {"curve": "HFrEF", "recall": 0.9, "precision": 0.77}, {"curve": "HFrEF", "recall": 0.95, "precision": 0.72}, {"curve": "HFrEF", "recall": 0.97, "precision": 0.68}, {"curve": "HFrEF", "recall": 0.98, "precision": 0.64}, {"curve": "HFrEF", "recall": 0.99, "precision": 0.6}, {"curve": "HFrEF", "recall": 1, "precision": 0.585}
    ],
    "diagonal": [{"fpr": 0, "tpr": 0}, {"fpr": 1, "tpr": 1}]
  },
  "vconcat": [
    {
      "title": {"text": "A.", "font": "Liberation Serif", "fontSize": 17, "color": "#000", "anchor": "start", "offset": 15},
      "spacing": 27,
      "resolve": {"scale": {"color": "independent"}, "legend": {"color": "independent"}},
      "hconcat": [
        {
          "width": 323, "height": 248,
          "title": "Receiver operating characteristic",
          "layer": [
            {
              "data": {"name": "rocA"},
              "mark": {"type": "line", "clip": true},
              "encoding": {
                "x": {"field": "fpr", "type": "quantitative", "scale": {"domain": [0, 1], "nice": false}, "axis": {"title": "False Positive Rate", "values": [0, 0.2, 0.4, 0.6, 0.8, 1], "format": ".1f"}},
                "y": {"field": "tpr", "type": "quantitative", "scale": {"domain": [0, 1.05], "nice": false}, "axis": {"title": "True Positive Rate", "values": [0, 0.2, 0.4, 0.6, 0.8, 1], "format": ".1f"}},
                "color": {"field": "curve", "type": "nominal", "scale": {"domain": ["HFmrEF", "HFpEF", "HFrEF"], "range": ["#E58E95", "#16A9E0", "#B285E8"]}, "legend": {"orient": "bottom-right", "labelExpr": "'ROC curve of ' + datum.label + ' (area = ' + (datum.label == 'HFmrEF' ? '0.68' : datum.label == 'HFpEF' ? '0.83' : '0.85') + ')'"}},
                "order": {"value": null}
              }
            },
            {
              "data": {"name": "diagonal"},
              "mark": {"type": "line", "color": "black", "strokeDash": [6, 4], "strokeWidth": 2},
              "encoding": {"x": {"field": "fpr", "type": "quantitative"}, "y": {"field": "tpr", "type": "quantitative"}}
            }
          ]
        },
        {
          "width": 323, "height": 248,
          "title": "Precision-Recall curve",
          "data": {"name": "prA"},
          "mark": {"type": "line", "clip": true},
          "encoding": {
            "x": {"field": "recall", "type": "quantitative", "scale": {"domain": [0, 1], "nice": false}, "axis": {"title": "Recall", "values": [0, 0.2, 0.4, 0.6, 0.8, 1], "format": ".1f"}},
            "y": {"field": "precision", "type": "quantitative", "scale": {"domain": [0, 1.05], "nice": false}, "axis": {"title": "Precision", "values": [0, 0.2, 0.4, 0.6, 0.8, 1], "format": ".1f"}},
            "color": {"field": "curve", "type": "nominal", "scale": {"domain": ["HFmrEF", "HFpEF", "HFrEF"], "range": ["#E58E95", "#16A9E0", "#B285E8"]}, "legend": {"orient": "bottom-left", "labelExpr": "'PR curve of ' + datum.label + ' (area = ' + (datum.label == 'HFmrEF' ? '0.24' : datum.label == 'HFpEF' ? '0.66' : '0.89') + ')'"}},
            "order": {"value": null}
          }
        }
      ]
    },
    {
      "title": {"text": "B.", "font": "Liberation Serif", "fontSize": 17, "color": "#000", "anchor": "start", "offset": 15},
      "spacing": 27,
      "resolve": {"scale": {"color": "independent"}, "legend": {"color": "independent"}},
      "hconcat": [
        {
          "width": 323, "height": 248,
          "title": "Receiver operating characteristic",
          "layer": [
            {
              "data": {"name": "rocB"},
              "mark": {"type": "line", "clip": true},
              "encoding": {
                "x": {"field": "fpr", "type": "quantitative", "scale": {"domain": [0, 1], "nice": false}, "axis": {"title": "False Positive Rate", "values": [0, 0.2, 0.4, 0.6, 0.8, 1], "format": ".1f"}},
                "y": {"field": "tpr", "type": "quantitative", "scale": {"domain": [0, 1.05], "nice": false}, "axis": {"title": "True Positive Rate", "values": [0, 0.2, 0.4, 0.6, 0.8, 1], "format": ".1f"}},
                "color": {"field": "curve", "type": "nominal", "scale": {"domain": ["HFmrEF", "HFpEF", "HFrEF"], "range": ["#E58E95", "#16A9E0", "#B285E8"]}, "legend": {"orient": "bottom-right", "labelExpr": "'ROC curve of ' + datum.label + ' (area = ' + (datum.label == 'HFmrEF' ? '0.54' : datum.label == 'HFpEF' ? '0.55' : '0.56') + ')'"}},
                "order": {"value": null}
              }
            },
            {
              "data": {"name": "diagonal"},
              "mark": {"type": "line", "color": "black", "strokeDash": [6, 4], "strokeWidth": 2},
              "encoding": {"x": {"field": "fpr", "type": "quantitative"}, "y": {"field": "tpr", "type": "quantitative"}}
            }
          ]
        },
        {
          "width": 323, "height": 248,
          "title": "Precision-Recall curve",
          "data": {"name": "prB"},
          "mark": {"type": "line", "clip": true},
          "encoding": {
            "x": {"field": "recall", "type": "quantitative", "scale": {"domain": [0, 1], "nice": false}, "axis": {"title": "Recall", "values": [0, 0.2, 0.4, 0.6, 0.8, 1], "format": ".1f"}},
            "y": {"field": "precision", "type": "quantitative", "scale": {"domain": [0, 1.05], "nice": false}, "axis": {"title": "Precision", "values": [0, 0.2, 0.4, 0.6, 0.8, 1], "format": ".1f"}},
            "color": {"field": "curve", "type": "nominal", "scale": {"domain": ["HFmrEF", "HFpEF", "HFrEF"], "range": ["#E58E95", "#16A9E0", "#B285E8"]}, "legend": {"orient": "bottom-left", "labelExpr": "'PR curve of ' + datum.label + ' (area = ' + (datum.label == 'HFmrEF' ? '0.13' : datum.label == 'HFpEF' ? '0.34' : '0.67') + ')'"}},
            "order": {"value": null}
          }
        }
      ]
    },
    {
      "title": {"text": "C.", "font": "Liberation Serif", "fontSize": 17, "color": "#000", "anchor": "start", "offset": 15},
      "spacing": 27,
      "resolve": {"scale": {"color": "independent"}, "legend": {"color": "independent"}},
      "hconcat": [
        {
          "width": 323, "height": 248,
          "title": "Receiver operating characteristic",
          "layer": [
            {
              "data": {"name": "rocC"},
              "mark": {"type": "line", "clip": true},
              "encoding": {
                "x": {"field": "fpr", "type": "quantitative", "scale": {"domain": [0, 1], "nice": false}, "axis": {"title": "False Positive Rate", "values": [0, 0.2, 0.4, 0.6, 0.8, 1], "format": ".1f"}},
                "y": {"field": "tpr", "type": "quantitative", "scale": {"domain": [0, 1.05], "nice": false}, "axis": {"title": "True Positive Rate", "values": [0, 0.2, 0.4, 0.6, 0.8, 1], "format": ".1f"}},
                "color": {"field": "curve", "type": "nominal", "scale": {"domain": ["HFmrEF", "HFpEF", "HFrEF"], "range": ["#E58E95", "#16A9E0", "#B285E8"]}, "legend": {"orient": "bottom-right", "labelExpr": "'ROC curve of ' + datum.label + ' (area = ' + (datum.label == 'HFmrEF' ? '0.70' : datum.label == 'HFpEF' ? '0.84' : '0.86') + ')'"}},
                "order": {"value": null}
              }
            },
            {
              "data": {"name": "diagonal"},
              "mark": {"type": "line", "color": "black", "strokeDash": [6, 4], "strokeWidth": 2},
              "encoding": {"x": {"field": "fpr", "type": "quantitative"}, "y": {"field": "tpr", "type": "quantitative"}}
            }
          ]
        },
        {
          "width": 323, "height": 248,
          "title": "Precision-Recall curve",
          "data": {"name": "prC"},
          "mark": {"type": "line", "clip": true},
          "encoding": {
            "x": {"field": "recall", "type": "quantitative", "scale": {"domain": [0, 1], "nice": false}, "axis": {"title": "Recall", "values": [0, 0.2, 0.4, 0.6, 0.8, 1], "format": ".1f"}},
            "y": {"field": "precision", "type": "quantitative", "scale": {"domain": [0, 1.05], "nice": false}, "axis": {"title": "Precision", "values": [0, 0.2, 0.4, 0.6, 0.8, 1], "format": ".1f"}},
            "color": {"field": "curve", "type": "nominal", "scale": {"domain": ["HFmrEF", "HFpEF", "HFrEF"], "range": ["#E58E95", "#16A9E0", "#B285E8"]}, "legend": {"orient": "bottom-left", "labelExpr": "'PR curve of ' + datum.label + ' (area = ' + (datum.label == 'HFmrEF' ? '0.24' : datum.label == 'HFpEF' ? '0.68' : '0.90') + ')'"}},
            "order": {"value": null}
          }
        }
      ]
    }
  ],
  "config": {
    "view": {"stroke": "#444", "strokeWidth": 1},
    "line": {"strokeWidth": 2},
    "axis": {
      "grid": false, "domain": false,
      "tickColor": "#333", "tickSize": 3.5, "tickWidth": 1,
      "labelFont": "DejaVu Sans", "labelFontSize": 9, "labelColor": "#333", "labelPadding": 2,
      "titleFont": "Liberation Sans", "titleFontSize": 14, "titleFontWeight": "normal", "titleColor": "#111", "titlePadding": 3
    },
    "title": {"font": "DejaVu Sans", "fontSize": 10.8, "fontWeight": "normal", "color": "#222", "offset": 6},
    "legend": {
      "title": null, "offset": 5,
      "symbolType": "stroke", "symbolSize": 300, "symbolStrokeWidth": 2,
      "labelFont": "DejaVu Sans", "labelFontSize": 9, "labelColor": "#222", "labelOffset": 6, "labelLimit": 400,
      "strokeColor": "#d4d4d4", "fillColor": "rgba(255,255,255,0.8)", "cornerRadius": 3,
      "padding": 4, "rowPadding": -3
    }
  }
}
